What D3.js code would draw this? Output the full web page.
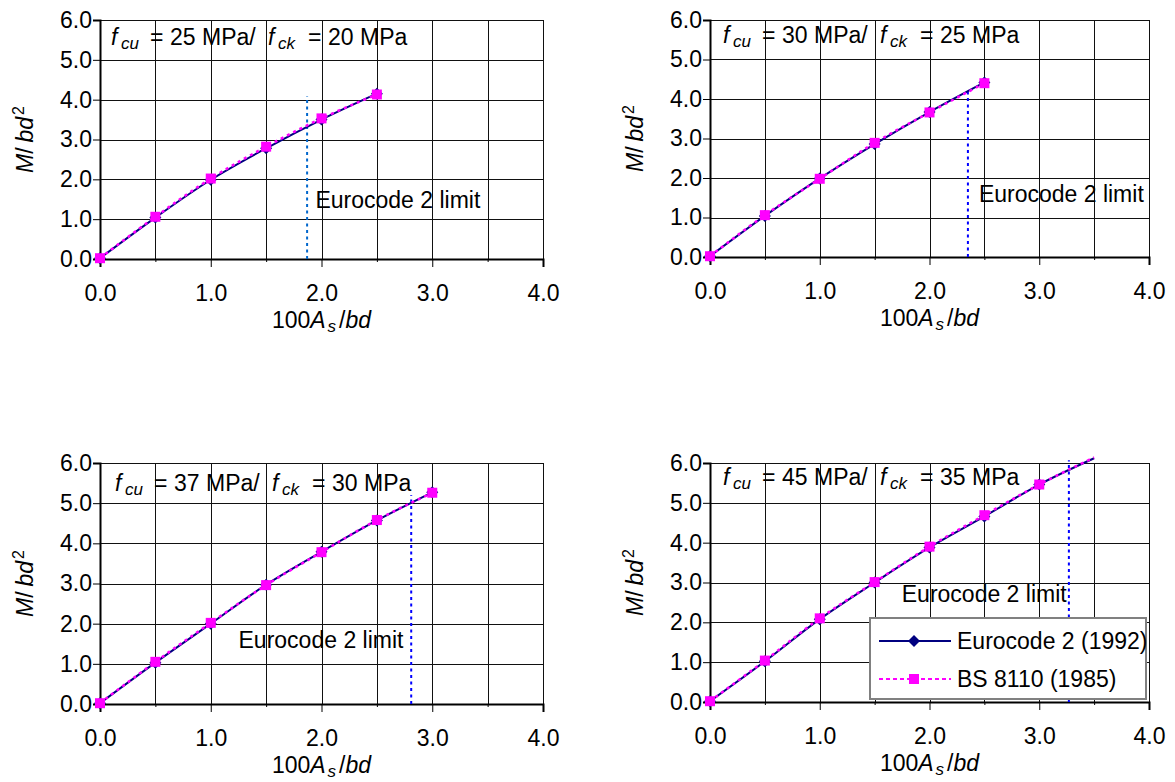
<!DOCTYPE html>
<html>
<head>
<meta charset="utf-8">
<script src="https://d3js.org/d3.v7.min.js"></script>
<style>
  body { margin: 0; background: #fff; }
  svg text { font-family: "Liberation Sans", Arial, sans-serif; font-size: 23px; fill: #000; }
</style>
</head>
<body>
<script>
// 100As/bd at each calculated point
var ratio = [0, 0.5, 1.0, 1.5, 2.0, 2.5, 3.0, 3.5];

// M/bd^2
var ec2_25 = [0.02, 1.04, 1.99, 2.78, 3.50, 4.15];
var bs_25  = [0.02, 1.06, 2.02, 2.82, 3.53, 4.13];
var ec2_30 = [0.02, 1.04, 1.99, 2.86, 3.67, 4.42];
var bs_30  = [0.02, 1.06, 1.98, 2.89, 3.66, 4.40];
var ec2_37 = [0.02, 1.03, 2.00, 2.97, 3.79, 4.57, 5.27];
var bs_37  = [0.02, 1.05, 2.02, 2.96, 3.78, 4.58, 5.26];
var ec2_45 = [0.02, 1.02, 2.08, 3.00, 3.88, 4.66, 5.46, 6.12];
var bs_45  = [0.02, 1.04, 2.10, 3.01, 3.90, 4.69, 5.46, 6.14];

var fcu = [25, 30, 37, 45];
var fck = [20, 25, 30, 35];
var limitRatio = [1.87, 2.35, 2.81, 3.27];
var limitTop = [4.09, 4.27, 5.20, 6.07];

var xTicks = [0, 1, 2, 3, 4];
var xMinor = [0.5, 1.5, 2.5, 3.5];
var yTicks = [0, 1, 2, 3, 4, 5, 6];
var seriesNames = ["Eurocode 2 (1992)", "BS 8110 (1985)"];

var panels = [
  { left: 100, right: 543, top: 20,  bottom: 259, ec2: ec2_25, bs: bs_25, tx: 11, ty: 25,
    lab: { x: 1.945, y: 1.27, anchor: "start" }, limColor: "#0066cc" },
  { left: 710, right: 1149, top: 20, bottom: 257, ec2: ec2_30, bs: bs_30, tx: 13, ty: 23,
    lab: { x: 2.45, y: 1.40, anchor: "start" }, limColor: "#0000ff" },
  { left: 100, right: 543, top: 463, bottom: 704, ec2: ec2_37, bs: bs_37, tx: 15, ty: 28,
    lab: { x: 2.74, y: 1.39, anchor: "end" }, limColor: "#0000ff" },
  { left: 710, right: 1149, top: 463, bottom: 702, ec2: ec2_45, bs: bs_45, tx: 13, ty: 22,
    lab: { x: 3.25, y: 2.52, anchor: "end" }, limColor: "#0000ff" }
];

var svg = d3.select("body").append("svg")
    .attr("width", 1175)
    .attr("height", 782);

var fmt = d3.format(".1f");

panels.forEach(function(p, k) {
  var x = d3.scaleLinear().domain([0, 4]).range([p.left, p.right]);
  var y = d3.scaleLinear().domain([0, 6]).range([p.bottom, p.top]);
  var g = svg.append("g");

  // grid
  g.selectAll(".vg").data(d3.range(0.5, 4.01, 0.5)).enter().append("line")
      .attr("x1", function(d) { return Math.round(x(d)) + 0.5; })
      .attr("x2", function(d) { return Math.round(x(d)) + 0.5; })
      .attr("y1", p.top).attr("y2", p.bottom)
      .attr("stroke", "#111").attr("stroke-width", 1);
  g.selectAll(".hg").data(yTicks.slice(1)).enter().append("line")
      .attr("x1", p.left).attr("x2", p.right)
      .attr("y1", function(d) { return Math.round(y(d)) + 0.5; })
      .attr("y2", function(d) { return Math.round(y(d)) + 0.5; })
      .attr("stroke", "#111").attr("stroke-width", 1);

  // axes
  var ya = g.append("g")
      .attr("transform", "translate(" + p.left + ",0)")
      .call(d3.axisLeft(y).tickValues(yTicks).tickSize(7).tickPadding(1).tickFormat(fmt));
  var xa = g.append("g")
      .attr("transform", "translate(0," + p.bottom + ")")
      .call(d3.axisBottom(x).tickValues(xTicks).tickSize(8).tickPadding(18).tickFormat(fmt));
  var xm = g.append("g")
      .attr("transform", "translate(0," + p.bottom + ")")
      .call(d3.axisBottom(x).tickValues(xMinor).tickSize(3).tickFormat(""));
  xm.select(".domain").remove();
  [ya, xa, xm].forEach(function(a) {
    a.attr("font-size", null).attr("font-family", null);
    a.selectAll(".tick line").attr("stroke", "#000");
  });
  ya.select(".domain").attr("stroke", "#000").attr("stroke-width", 2);
  xa.select(".domain").attr("stroke", "#000").attr("stroke-width", 2);

  // title
  var t = g.append("text").attr("x", p.left + p.tx).attr("y", p.top + p.ty);
  var base = p.left + p.tx;
  t.append("tspan").attr("x", base).attr("font-style", "italic").text("f");
  t.append("tspan").attr("x", base + 10).attr("dy", 4).attr("font-style", "italic")
      .style("font-size", "17px").text("cu");
  t.append("tspan").attr("x", base + 39).attr("dy", -4).text("=");
  t.append("tspan").attr("x", base + 59).text(fcu[k] + " MPa/");
  t.append("tspan").attr("x", base + 157).attr("font-style", "italic").text("f");
  t.append("tspan").attr("x", base + 167).attr("dy", 4).attr("font-style", "italic")
      .style("font-size", "17px").text("ck");
  t.append("tspan").attr("x", base + 197).attr("dy", -4).text("=");
  t.append("tspan").attr("x", base + 217).text(fck[k] + " MPa");

  // axis titles
  var xt = g.append("text")
      .attr("x", (p.left + p.right) / 2)
      .attr("y", p.bottom + 69)
      .attr("text-anchor", "middle");
  xt.append("tspan").text("100");
  xt.append("tspan").attr("font-style", "italic").text("A");
  xt.append("tspan").attr("font-style", "italic").attr("dx", 2).attr("dy", 4)
      .style("font-size", "17px").text("s");
  xt.append("tspan").attr("dx", 3).attr("dy", -4).text("/");
  xt.append("tspan").attr("font-style", "italic").text("bd");

  var yt = g.append("text")
      .attr("transform", "translate(" + (p.left - 75) + "," + ((p.top + p.bottom) / 2) + ") rotate(-90)")
      .attr("text-anchor", "middle")
      .attr("dy", "0.35em");
  yt.append("tspan").attr("font-style", "italic").text("M");
  yt.append("tspan").text("/");
  yt.append("tspan").attr("font-style", "italic").attr("dx", 5).text("bd");
  yt.append("tspan").attr("dx", 2).attr("dy", -9).style("font-size", "16px").text("2");

  // Eurocode 2 limit
  g.append("line")
      .attr("x1", x(limitRatio[k])).attr("x2", x(limitRatio[k]))
      .attr("y1", p.bottom).attr("y2", y(limitTop[k]))
      .attr("stroke", p.limColor).attr("stroke-width", 2)
      .attr("stroke-dasharray", "3,3.5");
  g.append("text")
      .attr("x", x(p.lab.x)).attr("y", y(p.lab.y))
      .attr("text-anchor", p.lab.anchor)
      .text("Eurocode 2 limit");

  // series
  var line = function(vals) {
    return d3.line()
        .x(function(d, i) { return x(ratio[i]); })
        .y(function(d) { return y(d); })
        .curve(d3.curveCatmullRom.alpha(0.5))(vals);
  };
  g.append("path").attr("d", line(p.ec2))
      .attr("fill", "none").attr("stroke", "#000080").attr("stroke-width", 2);
  g.append("path").attr("d", line(p.bs))
      .attr("fill", "none").attr("stroke", "#ff00ff").attr("stroke-width", 2.5)
      .attr("stroke-dasharray", "3,4");

  var ptsE = p.ec2.map(function(v, i) { return [ratio[i], v]; }).filter(function(d) { return d[1] <= 6; });
  var ptsB = p.bs.map(function(v, i) { return [ratio[i], v]; }).filter(function(d) { return d[1] <= 6; });
  g.selectAll(".dia").data(ptsE).enter().append("path")
      .attr("d", d3.symbol(d3.symbolSquare, 72)())
      .attr("transform", function(d) { return "translate(" + x(d[0]) + "," + y(d[1]) + ") rotate(45)"; })
      .attr("fill", "#000080");
  g.selectAll(".sq").data(ptsB).enter().append("path")
      .attr("d", d3.symbol(d3.symbolSquare, 100)())
      .attr("transform", function(d) { return "translate(" + x(d[0]) + "," + y(d[1]) + ")"; })
      .attr("fill", "#ff00ff");
});

// legend
var lg = svg.append("g");
lg.append("rect")
    .attr("x", 870).attr("y", 618).attr("width", 276).attr("height", 81)
    .attr("fill", "#fff").attr("stroke", "#808080").attr("stroke-width", 2);
var rows = [
  { y: 641, color: "#000080", dash: null, sym: d3.symbol(d3.symbolSquare, 72)(), rot: 45 },
  { y: 679, color: "#ff00ff", dash: "4,3", sym: d3.symbol(d3.symbolSquare, 100)(), rot: 0 }
];
rows.forEach(function(r, i) {
  lg.append("line")
      .attr("x1", 879).attr("x2", 951).attr("y1", r.y).attr("y2", r.y)
      .attr("stroke", r.color).attr("stroke-width", 2)
      .attr("stroke-dasharray", r.dash);
  lg.append("path").attr("d", r.sym)
      .attr("transform", "translate(914," + r.y + ") rotate(" + r.rot + ")")
      .attr("fill", r.color);
  lg.append("text").attr("x", 957).attr("y", r.y + 8).text(seriesNames[i]);
});
</script>
</body>
</html>
